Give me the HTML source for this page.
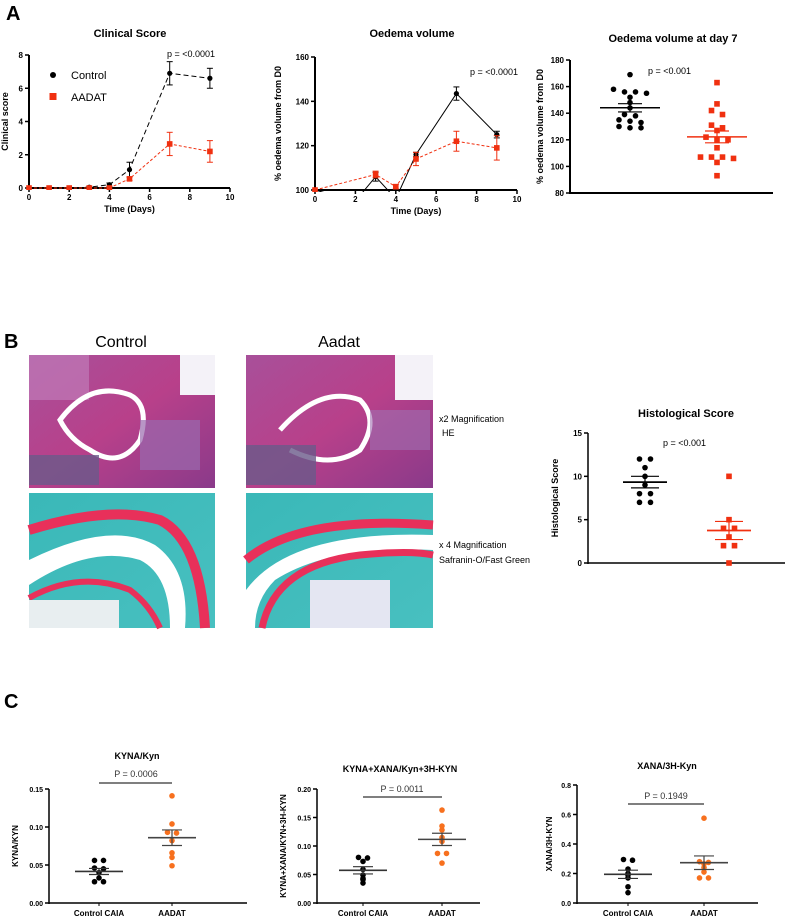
<!DOCTYPE html>
<html><head><meta charset="utf-8"><style>
html,body{margin:0;padding:0;background:#fff;}
svg{display:block;font-family:"Liberation Sans",Arial,sans-serif;}
</style></head><body>
<svg id="fig" width="785" height="918" viewBox="0 0 785 918" xmlns="http://www.w3.org/2000/svg">
<defs>
<linearGradient id="heG" x1="0" y1="0" x2="1" y2="1"><stop offset="0" stop-color="#a8509a"/><stop offset="0.5" stop-color="#b8408a"/><stop offset="1" stop-color="#8a3a8a"/></linearGradient>
<linearGradient id="sfG" x1="0" y1="0" x2="1" y2="1"><stop offset="0" stop-color="#3ab8b8"/><stop offset="1" stop-color="#48c0c0"/></linearGradient>
</defs>
<text x="6" y="20" font-size="20" font-weight="bold">A</text>
<text x="4" y="348" font-size="20" font-weight="bold">B</text>
<text x="4" y="708" font-size="20" font-weight="bold">C</text>

<g>
<text x="121" y="347" font-size="16" text-anchor="middle">Control</text>
<text x="339" y="347" font-size="16" text-anchor="middle">Aadat</text>
<g>
<rect x="29" y="355" width="186" height="133" fill="url(#heG)"/>
<rect x="29" y="355" width="60" height="45" fill="#c07ab8" opacity="0.7"/>
<rect x="180" y="355" width="35" height="40" fill="#f4f2f8"/>
<path d="M60 420 Q90 380 130 395 Q150 405 140 440 Q120 470 90 450 Q70 440 60 420Z" fill="none" stroke="#fff" stroke-width="5"/>
<rect x="29" y="455" width="70" height="30" fill="#6a5a8a" opacity="0.8"/>
<rect x="140" y="420" width="60" height="50" fill="#9a6aae" opacity="0.7"/>
</g>
<g>
<rect x="246" y="355" width="187" height="133" fill="url(#heG)"/>
<rect x="395" y="355" width="38" height="45" fill="#f4f2f8"/>
<path d="M280 430 Q320 385 360 400 Q380 420 360 450 Q330 470 290 450" fill="none" stroke="#fff" stroke-width="5"/>
<rect x="246" y="445" width="70" height="40" fill="#6a5a8a" opacity="0.8"/>
<rect x="370" y="410" width="60" height="40" fill="#a070b0" opacity="0.6"/>
</g>
<g>
<rect x="29" y="493" width="186" height="135" fill="url(#sfG)"/>
<path d="M29 530 Q110 505 160 520 Q200 540 205 628" fill="none" stroke="#e8305a" stroke-width="10"/>
<path d="M29 560 Q110 520 155 545 Q190 570 185 628 L170 628 Q170 575 140 560 Q90 545 29 585Z" fill="#ffffff"/>
<path d="M29 598 Q80 570 130 590 Q150 605 160 628" fill="none" stroke="#e8305a" stroke-width="6"/>
<rect x="29" y="600" width="90" height="28" fill="#e8eef0"/>
</g>
<g>
<rect x="246" y="493" width="187" height="135" fill="url(#sfG)"/>
<path d="M246 560 Q300 515 433 525" fill="none" stroke="#e8305a" stroke-width="9"/>
<path d="M246 590 Q290 530 433 535 L433 550 Q330 545 275 580 Q255 600 255 628 L246 628Z" fill="#ffffff"/>
<path d="M262 628 Q275 565 360 555 Q410 550 433 555" fill="none" stroke="#e8305a" stroke-width="7"/>
<rect x="310" y="580" width="80" height="48" fill="#e4e6f2"/>
</g>
<text x="439" y="422" font-size="9">x2 Magnification</text>
<text x="442" y="436" font-size="9">HE</text>
<text x="439" y="548" font-size="9">x 4 Magnification</text>
<text x="439" y="563" font-size="9">Safranin-O/Fast Green</text>
</g>
<g id="charts"></g>
</svg>
<script>
const clinDays = [0,1,2,3,4,5,7,9];
const clinCtrl = [0,0,0,0.05,0.2,1.1,6.9,6.6];
const clinCtrlErr = [0,0,0,0.05,0.1,0.45,0.7,0.6];
const clinAadat = [0,0,0,0,0,0.55,2.65,2.2];
const clinAadatErr = [0,0,0,0,0,0.1,0.7,0.65];
const clinTicksX = [0,2,4,6,8,10];
const clinTicksY = [0,2,4,6,8];

const oedDaysCtrl = [0,2,3,4,5,7,9];
const oedCtrl = [100,95,106,96,116,143.5,125];
const oedCtrlErr = [0,0,2,0,1,3,1.5];
const oedDaysAadat = [0,3,4,5,7,9];
const oedAadat = [100,107,101.5,114,122,119];
const oedAadatErr = [0,1.5,1,3,4.5,5.5];
const oedTicksX = [0,2,4,6,8,10];
const oedTicksY = [100,120,140,160];

const d7Ctrl = [169,158,156,156,155,152,148,144,139,138,135,134,133,130,129,129];
const d7Aadat = [163,147,142,139,131,129,127,122,120,120,114,107,107,107,106,103,93];
const d7Ticks = [80,100,120,140,160,180];

const histCtrl = [12,12,11,10,9,8,8,7,7];
const histAadat = [10,5,4,4,3,2,2,0];
const histTicks = [0,5,10,15];

const kynCtrl = [0.056,0.056,0.046,0.045,0.040,0.033,0.028,0.028];
const kynAadat = [0.141,0.104,0.093,0.092,0.082,0.066,0.060,0.049];
const kynTicks = [0,0.05,0.10,0.15];
const sumCtrl = [0.080,0.079,0.073,0.059,0.049,0.043,0.041,0.035];
const sumAadat = [0.163,0.135,0.128,0.115,0.108,0.087,0.087,0.070];
const sumTicks = [0,0.05,0.10,0.15,0.20];
const xanCtrl = [0.295,0.29,0.23,0.20,0.19,0.17,0.11,0.07];
const xanAadat = [0.575,0.28,0.275,0.265,0.24,0.21,0.17,0.17];
const xanTicks = [0,0.2,0.4,0.6,0.8];
const catLabels = ["Control CAIA","AADAT"];

const NS="http://www.w3.org/2000/svg";
const root=document.getElementById('charts');
function mk(tag,attrs,parent){const e=document.createElementNS(NS,tag);for(const k in attrs)e.setAttribute(k,attrs[k]);(parent||root).appendChild(e);return e;}
function txt(parent,x,y,s,size,anchor,extra){const t=mk('text',Object.assign({x:x,y:y,'font-size':size,'text-anchor':anchor||'start'},extra||{}),parent);t.textContent=s;return t;}
function lin(a,b,c,d){return v=>c+(v-a)*(d-c)/(b-a);}
function mean(a){return a.reduce((s,v)=>s+v,0)/a.length;}
function sem(a){const m=mean(a);return Math.sqrt(a.reduce((s,v)=>s+(v-m)*(v-m),0)/(a.length-1))/Math.sqrt(a.length);}
function fmt(v,d){return v.toFixed(d);}
function jitter(vals,step,tol){const out=[];const groups=[];vals.forEach((v,i)=>{let g=groups.find(g=>Math.abs(g.v-v)<=tol);if(!g){g={v:v,idx:[]};groups.push(g);}g.idx.push(i);});groups.forEach(g=>{const n=g.idx.length;g.idx.forEach((i,k)=>{out[i]=(k-(n-1)/2)*step;});});return out;}

function lineChart(o){
  const g=mk('g',{});
  
  
  const X=lin(o.xmin,o.xmax,o.x0,o.x1), Y=lin(o.ymin,o.ymax,o.y0,o.y1);
  const clipId=o.name+'-clip';
  const cp=mk('clipPath',{id:clipId},g);mk('rect',{x:o.x0-6,y:o.y1-10,width:o.x1-o.x0+12,height:o.y0-o.y1+12},cp);
  const ax=mk('line',{x1:o.x0,y1:o.y0,x2:o.x1,y2:o.y0,stroke:'#000','stroke-width':2},g);
  
  
  const ay=mk('line',{x1:o.x0,y1:o.y0+1,x2:o.x0,y2:o.y1,stroke:'#000','stroke-width':2},g);
  
  
  o.ticksX.forEach(t=>{mk('line',{x1:X(t),y1:o.y0,x2:X(t),y2:o.y0+4,stroke:'#000','stroke-width':1.5},g);
    const tl=txt(g,X(t),o.y0+12,String(t),8,'middle',{'font-weight':'bold'});
    
    });
  o.ticksY.forEach(t=>{mk('line',{x1:o.x0-4,y1:Y(t),x2:o.x0,y2:Y(t),stroke:'#000','stroke-width':1.5},g);
    const tl=txt(g,o.x0-6,Y(t)+3,String(t),8,'end',{'font-weight':'bold'});
    
    });
  const xt=txt(g,(o.x0+o.x1)/2,o.y0+24,'Time (Days)',9,'middle',{'font-weight':'bold'});
  
  
  const yt=txt(g,0,0,o.ylabel,9,'middle',{'font-weight':'bold',transform:`translate(${o.ylx},${(o.y0+o.y1)/2}) rotate(-90)`});
  
  
  const tt=txt(g,o.tx,o.ty,o.title,11,'middle',{'font-weight':'bold'});
  
  
  const pt=txt(g,o.px,o.py,o.ptext,9,'start');
  
  
  const cg=mk('g',{'clip-path':`url(#${clipId})`},g);
  o.series.forEach(s=>{
    const sg=mk('g',{},cg);
    
    
    const pts=s.x.map((d,i)=>X(d)+','+Y(s.y[i])).join(' ');
    mk('polyline',{points:pts,fill:'none',stroke:s.color,'stroke-width':1,'stroke-dasharray':s.dash},sg);
    s.x.forEach((d,i)=>{
      const cx=X(d),cy=Y(s.y[i]),e=s.err[i];
      if(e>0){mk('line',{x1:cx,y1:Y(s.y[i]+e),x2:cx,y2:Y(s.y[i]-e),stroke:s.color,'stroke-width':1},sg);
        [s.y[i]+e,s.y[i]-e].forEach(v=>mk('line',{x1:cx-3,y1:Y(v),x2:cx+3,y2:Y(v),stroke:s.color,'stroke-width':1},sg));}
      let m;
      if(s.shape==='circle') m=mk('circle',{cx:cx,cy:cy,r:2.6,fill:s.color},sg);
      else m=mk('rect',{x:cx-2.8,y:cy-2.8,width:5.6,height:5.6,fill:s.color},sg);
      
      
    });
  });
  return g;
}

const clin=lineChart({name:'clinical-score-chart',xmin:0,xmax:10,ymin:0,ymax:8,x0:29,x1:230,y0:188,y1:55,
  ticksX:clinTicksX,ticksY:clinTicksY,ylabel:'Clinical score',ylx:8,title:'Clinical Score',tx:130,ty:37,
  ptext:'p = <0.0001',px:167,py:57,
  series:[{name:'control-series',x:clinDays,y:clinCtrl,err:clinCtrlErr,color:'#000',dash:'5,3',shape:'circle'},
          {name:'aadat-series',x:clinDays,y:clinAadat,err:clinAadatErr,color:'#f03010',dash:'3,2',shape:'square'}]});
const lg=mk('g',{},clin);


mk('circle',{cx:53,cy:75,r:3,fill:'#000'},lg);
const l1=txt(lg,71,79,'Control',11,'start');


mk('rect',{x:49.5,y:93,width:7,height:7,fill:'#f03010'},lg);
const l2=txt(lg,71,101,'AADAT',11,'start');



lineChart({name:'oedema-volume-chart',xmin:0,xmax:10,ymin:100,ymax:160,x0:315,x1:517,y0:190,y1:57,
  ticksX:oedTicksX,ticksY:oedTicksY,ylabel:'% oedema volume from D0',ylx:281,title:'Oedema volume',tx:412,ty:37,
  ptext:'p = <0.0001',px:470,py:75,
  series:[{name:'control-series',x:oedDaysCtrl,y:oedCtrl,err:oedCtrlErr,color:'#000',dash:'',shape:'circle'},
          {name:'aadat-series',x:oedDaysAadat,y:oedAadat,err:oedAadatErr,color:'#f03010',dash:'3,2',shape:'square'}]});

function scatter(o){
  const g=mk('g',{});
  
  
  const Y=lin(o.ymin,o.ymax,o.y0,o.y1);
  const ax=mk('line',{x1:o.x0,y1:o.y0,x2:o.x1,y2:o.y0,stroke:'#000','stroke-width':o.aw},g);
  
  
  const ay=mk('line',{x1:o.x0,y1:o.y0+1,x2:o.x0,y2:o.y1,stroke:'#000','stroke-width':o.aw},g);
  
  
  o.ticks.forEach(t=>{mk('line',{x1:o.x0-4,y1:Y(t),x2:o.x0,y2:Y(t),stroke:'#000','stroke-width':1.5},g);
    const tl=txt(g,o.x0-6,Y(t)+3,fmt(t,o.dec),o.tfs,'end',{'font-weight':'bold'});
    
    });
  const yt=txt(g,0,0,o.ylabel,o.yfs,'middle',{'font-weight':'bold',transform:`translate(${o.ylx},${(o.y0+o.y1)/2}) rotate(-90)`});
  
  
  const tt=txt(g,o.tx,o.ty,o.title,o.titfs,'middle',{'font-weight':'bold'});
  
  
  const pt=txt(g,o.px,o.py,o.ptext,9,o.panchor||'start',{fill:o.pcolor||'#000'});
  
  
  if(o.bar){const b=mk('line',{x1:o.cx[0],y1:o.bar,x2:o.cx[1],y2:o.bar,stroke:'#333','stroke-width':1.2},g);
    
    }
  if(o.cats){o.cats.forEach((c,i)=>{mk('line',{x1:o.cx[i],y1:o.y0,x2:o.cx[i],y2:o.y0+3,stroke:'#000'},g);
    const cl=txt(g,o.cx[i],o.y0+13,c,8,'middle',{'font-weight':'bold'});
    
    });}
  o.groups.forEach((grp,gi)=>{
    const sg=mk('g',{},g);
    
    
    const cx=o.cx[gi];
    const dx=jitter(grp.vals,o.step,o.tol);
    grp.vals.forEach((v,i)=>{
      let m;
      if(grp.shape==='square') m=mk('rect',{x:cx+dx[i]-2.8,y:Y(v)-2.8,width:5.6,height:5.6,fill:grp.color},sg);
      else m=mk('circle',{cx:cx+dx[i],cy:Y(v),r:o.r,fill:grp.color},sg);
      
      
    });
    const mu=mean(grp.vals),se=sem(grp.vals);
    const ml=mk('line',{x1:cx-o.mw,y1:Y(mu),x2:cx+o.mw,y2:Y(mu),stroke:grp.lcolor,'stroke-width':o.mlw},sg);
    
    
    [mu+se,mu-se].forEach(v=>mk('line',{x1:cx-o.sw,y1:Y(v),x2:cx+o.sw,y2:Y(v),stroke:grp.lcolor,'stroke-width':1.2},sg));
    mk('line',{x1:cx,y1:Y(mu+se),x2:cx,y2:Y(mu-se),stroke:grp.lcolor,'stroke-width':1.2},sg);
  });
}

scatter({name:'oedema-day7-chart',ymin:80,ymax:180,x0:570,x1:773,y0:193,y1:60,ticks:d7Ticks,dec:0,tfs:8,
  ylabel:'% oedema volume from D0',yfs:9,ylx:543,title:'Oedema volume at day 7',titfs:11,tx:673,ty:42,
  ptext:'p = <0.001',px:648,py:74,cx:[630,717],step:11,tol:3.5,r:2.8,mw:30,sw:12,mlw:1.5,aw:2,
  groups:[{name:'control-points',vals:d7Ctrl,color:'#000',lcolor:'#000',shape:'circle'},
          {name:'aadat-points',vals:d7Aadat,color:'#f03010',lcolor:'#f03010',shape:'square'}]});

scatter({name:'histological-score-chart',ymin:0,ymax:15,x0:588,x1:785,y0:563,y1:433,ticks:histTicks,dec:0,tfs:8,
  ylabel:'Histological Score',yfs:9,ylx:558,title:'Histological Score',titfs:11,tx:686,ty:417,
  ptext:'p = <0.001',px:663,py:446,cx:[645,729],step:11,tol:0.1,r:2.8,mw:22,sw:14,mlw:1.8,aw:1.5,
  groups:[{name:'control-points',vals:histCtrl,color:'#000',lcolor:'#000',shape:'circle'},
          {name:'aadat-points',vals:histAadat,color:'#f03010',lcolor:'#f03010',shape:'square'}]});

const orange='#f7701e';
scatter({name:'kyna-kyn-chart',ymin:0,ymax:0.15,x0:49,x1:247,y0:903,y1:789,ticks:kynTicks,dec:2,tfs:7,
  ylabel:'KYNA/KYN',yfs:8,ylx:18,title:'KYNA/Kyn',titfs:9,tx:137,ty:759,
  ptext:'P = 0.0006',px:136,py:777,panchor:'middle',pcolor:'#333',bar:783,cats:catLabels,
  cx:[99,172],step:9,tol:0.0015,r:2.8,mw:24,sw:10,mlw:1.6,aw:1.5,
  groups:[{name:'control-caia-points',vals:kynCtrl,color:'#000',lcolor:'#333',shape:'circle'},
          {name:'aadat-points',vals:kynAadat,color:orange,lcolor:'#444',shape:'circle'}]});

scatter({name:'kyna-xana-sum-chart',ymin:0,ymax:0.20,x0:317,x1:480,y0:903,y1:789,ticks:sumTicks,dec:2,tfs:7,
  ylabel:'KYNA+XANA/KYN+3H-KYN',yfs:8,ylx:286,title:'KYNA+XANA/Kyn+3H-KYN',titfs:9,tx:400,ty:772,
  ptext:'P = 0.0011',px:402,py:792,panchor:'middle',pcolor:'#333',bar:797,cats:catLabels,
  cx:[363,442],step:9,tol:0.0015,r:2.8,mw:24,sw:10,mlw:1.6,aw:1.5,
  groups:[{name:'control-caia-points',vals:sumCtrl,color:'#000',lcolor:'#333',shape:'circle'},
          {name:'aadat-points',vals:sumAadat,color:orange,lcolor:'#444',shape:'circle'}]});

scatter({name:'xana-3h-kyn-chart',ymin:0,ymax:0.8,x0:577,x1:758,y0:903,y1:785,ticks:xanTicks,dec:1,tfs:7,
  ylabel:'XANA/3H-KYN',yfs:8,ylx:552,title:'XANA/3H-Kyn',titfs:9,tx:667,ty:769,
  ptext:'P = 0.1949',px:666,py:799,panchor:'middle',pcolor:'#333',bar:804,cats:catLabels,
  cx:[628,704],step:9,tol:0.008,r:2.8,mw:24,sw:10,mlw:1.6,aw:1.5,
  groups:[{name:'control-caia-points',vals:xanCtrl,color:'#000',lcolor:'#333',shape:'circle'},
          {name:'aadat-points',vals:xanAadat,color:orange,lcolor:'#444',shape:'circle'}]});
</script>
</body></html>
